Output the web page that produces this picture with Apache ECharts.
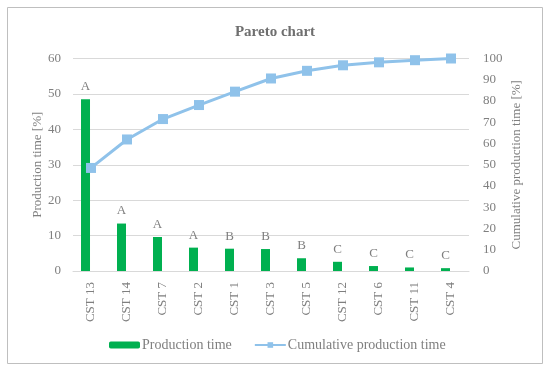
<!DOCTYPE html>
<html>
<head>
<meta charset="utf-8">
<script src="https://cdn.jsdelivr.net/npm/echarts@6/dist/echarts.min.js"></script>
<style>
html,body{margin:0;padding:0;background:#fff;}
#chart{width:550px;height:373px;}
</style>
</head>
<body>
<div id="chart"></div>
<script>
var categories = ['CST 13','CST 14','CST 7','CST 2','CST 1','CST 3','CST 5','CST 12','CST 6','CST 11','CST 4'];
var productionTime = [48.5, 13.4, 9.6, 6.6, 6.3, 6.2, 3.6, 2.6, 1.4, 1.0, 0.8];
var cumulativeTime = [48.5, 61.9, 71.5, 78.1, 84.4, 90.6, 94.2, 96.8, 98.2, 99.2, 100];
var abcClasses = ['A','A','A','A','B','B','B','C','C','C','C'];
var leftTicks = [0, 60, 10];
var rightTicks = [0, 100, 10];

var FONT = 'Liberation Serif';
var GRAY = '#7f7f7f';

var chart = echarts.init(document.getElementById('chart'), null, {renderer: 'canvas'});
chart.setOption({
  backgroundColor: '#ffffff',
  textStyle: {fontFamily: FONT, color: GRAY},
  title: {
    text: 'Pareto chart',
    left: 'center',
    top: 20,
    textStyle: {fontFamily: FONT, fontSize: 15, fontWeight: 'bold', color: '#6f6f6f'}
  },
  graphic: [{
    type: 'rect',
    shape: {x: 7.5, y: 7.5, width: 535, height: 356},
    style: {fill: 'none', stroke: '#bfbfbf', lineWidth: 1},
    silent: true
  }],
  legend: {
    data: ['Production time', 'Cumulative production time'],
    left: 104,
    top: 333,
    itemWidth: 31,
    itemHeight: 7,
    itemGap: 22,
    textStyle: {fontFamily: FONT, fontSize: 14, color: GRAY, padding: [0,0,0,-3]}
  },
  grid: {left: 73, right: 81, top: 58.5, bottom: 102, containLabel: false},
  xAxis: {
    type: 'category',
    data: categories,
    axisLine: {show: true, lineStyle: {color: '#d9d9d9'}},
    axisTick: {show: false},
    axisLabel: {rotate: 90, fontFamily: FONT, fontSize: 13, color: GRAY, margin: 11, interval: 0}
  },
  yAxis: [{
    type: 'value',
    min: leftTicks[0], max: leftTicks[1], interval: leftTicks[2],
    name: 'Production time [%]',
    nameLocation: 'middle',
    nameGap: 29,
    nameMoveOverlap: false,
    nameRotate: 90,
    nameTextStyle: {fontFamily: FONT, fontSize: 13, color: GRAY},
    axisLine: {show: false},
    axisTick: {show: false},
    axisLabel: {fontFamily: FONT, fontSize: 13, color: GRAY, margin: 12},
    splitLine: {lineStyle: {color: '#d9d9d9'}}
  }, {
    type: 'value',
    min: rightTicks[0], max: rightTicks[1], interval: rightTicks[2],
    name: 'Cumulative production time [%]',
    nameLocation: 'middle',
    nameGap: 41,
    nameMoveOverlap: false,
    nameRotate: 90,
    nameTextStyle: {fontFamily: FONT, fontSize: 13, color: GRAY},
    axisLine: {show: false},
    axisTick: {show: false},
    axisLabel: {fontFamily: FONT, fontSize: 13, color: GRAY, margin: 14},
    splitLine: {show: false}
  }],
  series: [{
    name: 'Production time',
    type: 'bar',
    data: productionTime,
    barWidth: 9,
    barGap: '22%',
    itemStyle: {color: '#00b050'},
    label: {
      show: true,
      position: 'top',
      distance: 6,
      fontFamily: FONT,
      fontSize: 13,
      color: GRAY,
      formatter: function (p) { return abcClasses[p.dataIndex]; }
    }
  }, {
    name: 'spacer',
    type: 'bar',
    data: categories.map(function(){ return null; }),
    barWidth: 9,
    itemStyle: {color: 'transparent'}
  }, {
    name: 'Cumulative production time',
    type: 'line',
    yAxisIndex: 1,
    data: cumulativeTime,
    symbol: 'rect',
    symbolSize: 10,
    lineStyle: {color: '#8fc2ea', width: 3},
    itemStyle: {color: '#8fc2ea'},
    z: 3
  }]
});
</script>
</body>
</html>
